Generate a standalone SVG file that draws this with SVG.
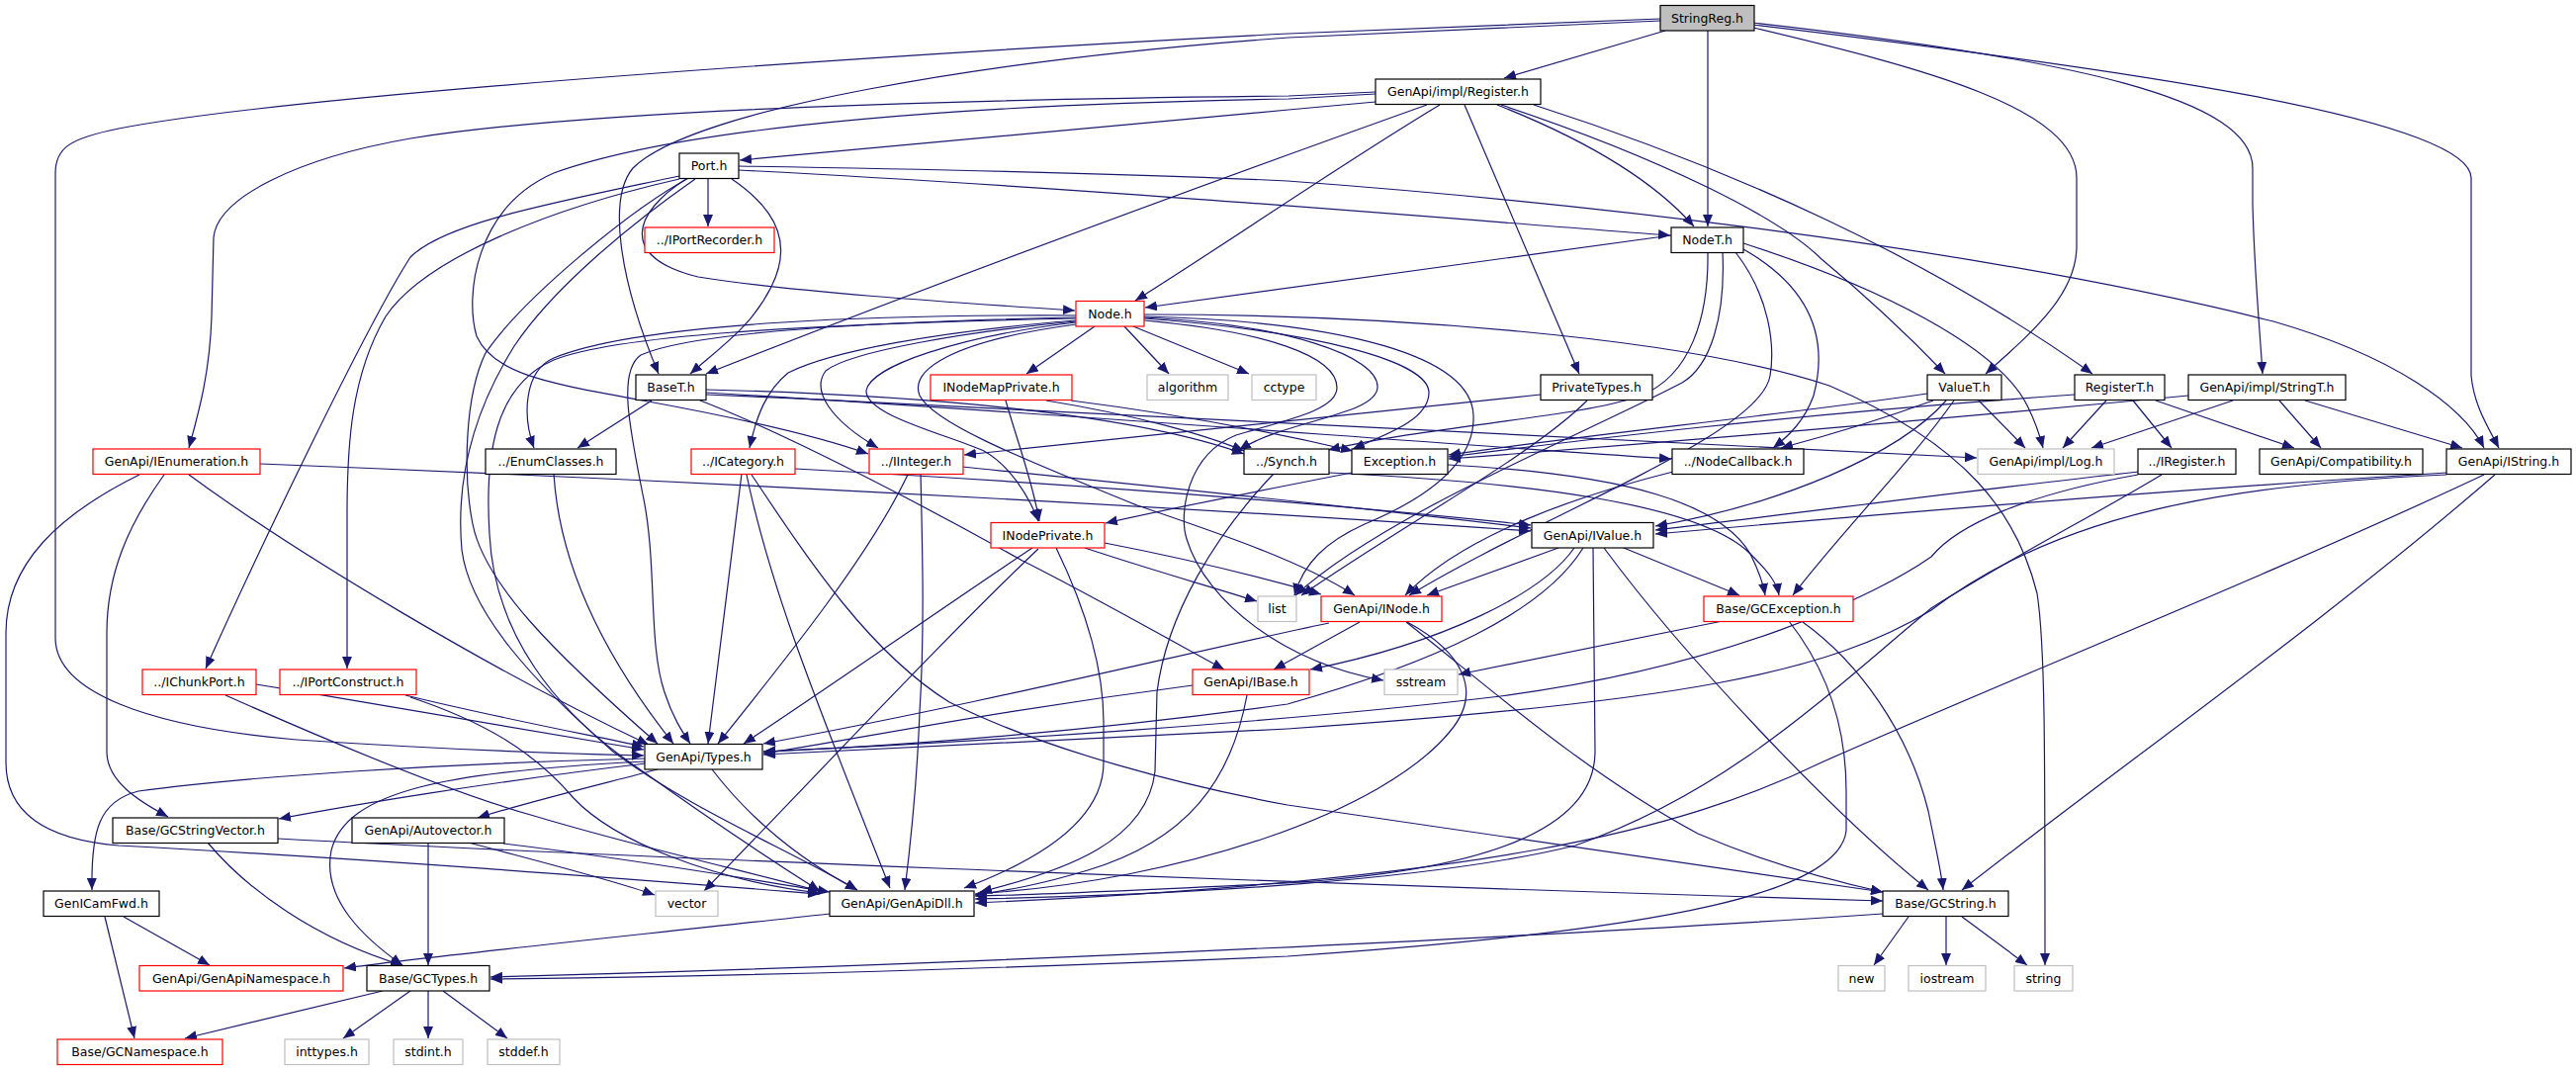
<svg xmlns="http://www.w3.org/2000/svg" width="2605" height="1083" viewBox="0 0 2605 1083">
<defs>
<style>
.e{fill:none;stroke:#191970;stroke-width:1.2;marker-end:url(#ah)}
.n{fill:#fff;stroke:#000;stroke-width:1.2}
.r{fill:#fff;stroke:#ff0000;stroke-width:1.2}
.g{fill:#fff;stroke:#bfbfbf;stroke-width:1.2}
.root{fill:#bfbfbf;stroke:#000;stroke-width:1.2}
text{font-family:"DejaVu Sans","Liberation Sans",sans-serif;font-size:12.5px;fill:#000;text-anchor:middle}
</style>
<marker id="ah" markerUnits="userSpaceOnUse" markerWidth="12" markerHeight="10" refX="12" refY="5" orient="auto">
<path d="M0,0 L12,5 L0,10 z" fill="#191970"/>
</marker>
</defs>
<rect width="2605" height="1083" fill="#fff"/>
<g id="edges">
<path class="e" d="M1684,31 L1521,79"/>
<path class="e" d="M1727,31 L1727,229"/>
<path class="e" d="M1773,28 C1950,70 2100,110 2100,180 L2100,249 C2100,300 2050,340 2008,378"/>
<path class="e" d="M1773,23 C2100,60 2278,100 2278,170 L2278,207 C2280,280 2285,330 2288,378"/>
<path class="e" d="M1773,25 C2150,70 2499,120 2499,180 L2499,380 C2502,410 2515,430 2527,453"/>
<path class="e" d="M1679,21 L1303,38 C1000,60 700,110 640,170 C615,200 625,280 666,378"/>
<path class="e" d="M1679,19 L1303,34 C900,55 300,95 120,130 C70,140 56,150 56,175 L56,645 C56,700 150,735 300,748 C450,758 560,762 651,764"/>
<path class="e" d="M1391,93 L1303,97 C1000,100 600,110 415,140 C300,160 220,200 216,240 L214,320 C212,380 200,420 191,453"/>
<path class="e" d="M1391,95 L1303,100 C1000,105 700,125 560,175 C480,210 470,300 482,340 C500,380 560,388 650,405 C760,425 830,442 878,459"/>
<path class="e" d="M1391,103 L1303,111 C1100,130 900,148 748,162"/>
<path class="e" d="M1443,106 C1250,175 950,285 714,378"/>
<path class="e" d="M1456,106 C1350,170 1250,240 1148,304"/>
<path class="e" d="M1481,106 L1597,378"/>
<path class="e" d="M1514,106 C1600,140 1670,180 1713,229"/>
<path class="e" d="M1518,106 C1680,160 1800,220 1842,262 C1900,310 1940,350 1967,378"/>
<path class="e" d="M1551,106 C1750,170 1950,260 2116,378"/>
<path class="e" d="M716,181 L716,229"/>
<path class="e" d="M747,168 C1000,172 1200,178 1302,183 C1600,205 2000,250 2299,325 C2420,360 2490,410 2512,453"/>
<path class="e" d="M747,172 C1100,190 1450,220 1689,238"/>
<path class="e" d="M694,181 C640,215 625,260 706,280 C800,295 950,305 1087,314"/>
<path class="e" d="M740,181 C790,215 800,250 780,290 C760,330 730,350 698,378"/>
<path class="e" d="M687,178 C560,205 450,225 415,260 C370,330 260,560 208,676"/>
<path class="e" d="M687,181 C560,210 430,260 390,320 C355,380 351,450 351,520 L351,676"/>
<path class="e" d="M700,178 C640,210 530,300 491,357 C470,400 468,480 478,530 C490,590 560,660 665,752"/>
<path class="e" d="M703,181 C640,225 560,290 520,350 C470,430 462,500 467,556 C475,620 540,690 620,760 C700,820 800,860 867,900"/>
<path class="e" d="M1107,330 L1038,378"/>
<path class="e" d="M1137,330 L1182,378"/>
<path class="e" d="M1146,330 L1263,378"/>
<path class="e" d="M1088,319 C900,318 650,325 560,362 C530,375 528,420 540,453"/>
<path class="e" d="M1088,321 C900,325 700,335 648,359 C625,375 636,430 650,500 C665,570 655,650 672,700 C680,725 690,740 698,752"/>
<path class="e" d="M1088,324 C950,335 840,355 797,377 C775,395 765,420 758,453"/>
<path class="e" d="M1088,325 C980,335 860,355 835,375 C820,395 840,425 888,453"/>
<path class="e" d="M1088,326 C970,340 880,370 876,395 C875,420 960,440 995,456 C1020,470 1040,500 1050,527"/>
<path class="e" d="M1088,328 C960,345 920,375 930,400 C945,430 1050,470 1150,511 C1250,545 1320,570 1370,602"/>
<path class="e" d="M1088,322 C800,328 620,340 560,364 C500,390 490,460 495,540 C500,640 560,720 650,780 C720,830 780,870 829,901"/>
<path class="e" d="M1157,321 C1300,328 1395,360 1393,392 C1391,420 1300,425 1253,455"/>
<path class="e" d="M1157,322 C1330,335 1445,365 1445,397 C1445,425 1400,440 1368,454"/>
<path class="e" d="M1157,324 C1280,335 1352,360 1352,392 C1352,415 1300,425 1250,440 C1200,460 1192,520 1200,545 C1220,610 1300,670 1399,688"/>
<path class="e" d="M1157,320 C1360,325 1488,360 1490,420 C1492,470 1440,505 1380,530 C1340,548 1318,570 1309,602"/>
<path class="e" d="M1157,318 C1400,318 1700,340 1850,390 C1990,450 2040,520 2060,600 C2068,650 2068,750 2068,976"/>
<path class="e" d="M659,405 L584,453"/>
<path class="e" d="M714,394 C950,400 1150,420 1258,459"/>
<path class="e" d="M714,397 C1100,420 1400,445 1690,464"/>
<path class="e" d="M714,399 C1200,420 1700,445 1999,463"/>
<path class="e" d="M708,405 C800,440 950,520 1034,567 C1100,600 1170,640 1238,677"/>
<path class="e" d="M1017,405 C1030,450 1045,490 1051,527"/>
<path class="e" d="M1058,405 C1150,420 1220,440 1258,456"/>
<path class="e" d="M1083,405 C1200,420 1300,440 1368,456"/>
<path class="e" d="M1044,554 C960,610 860,680 752,752"/>
<path class="e" d="M1050,555 C960,640 820,790 712,901"/>
<path class="e" d="M1068,554 C1100,620 1116,680 1116,730 L1116,771 C1116,830 1050,870 975,898"/>
<path class="e" d="M1097,554 C1160,575 1220,592 1271,608"/>
<path class="e" d="M1117,549 C1200,565 1280,585 1336,601"/>
<path class="e" d="M918,480 C880,560 800,660 726,752"/>
<path class="e" d="M931,479 C933,560 935,640 930,720 C927,800 920,860 915,900"/>
<path class="e" d="M973,472 C1150,490 1350,510 1548,534"/>
<path class="e" d="M750,479 C740,560 725,680 716,752"/>
<path class="e" d="M755,480 C780,600 830,720 900,898"/>
<path class="e" d="M760,480 C820,570 880,660 960,710 C1060,760 1200,795 1302,814 L1904,902"/>
<path class="e" d="M804,474 C1100,490 1350,510 1548,531"/>
<path class="e" d="M560,479 C565,560 600,650 681,752"/>
<path class="e" d="M191,480 C300,560 500,680 656,753"/>
<path class="e" d="M166,480 C130,530 108,580 108,640 L108,760 C108,790 140,810 170,826"/>
<path class="e" d="M141,480 C60,520 6,570 6,640 L6,771 C6,830 60,850 120,855 C400,870 650,890 829,904"/>
<path class="e" d="M263,469 C800,490 1300,520 1548,537"/>
<path class="e" d="M1288,479 C1230,540 1180,620 1170,700 L1168,780 C1160,850 1080,880 991,902"/>
<path class="e" d="M1344,478 C1550,488 1720,510 1770,560 C1790,580 1797,590 1799,602"/>
<path class="e" d="M1464,470 C1650,480 1740,510 1770,560 C1780,580 1783,590 1785,602"/>
<path class="e" d="M1367,478 C1280,495 1180,515 1118,529"/>
<path class="e" d="M1692,477 C1600,500 1480,540 1421,602"/>
<path class="e" d="M1558,399 C1350,420 1150,440 975,460"/>
<path class="e" d="M1605,405 C1550,460 1420,530 1316,602"/>
<path class="e" d="M1690,238 L1158,311"/>
<path class="e" d="M1727,255 C1728,320 1710,380 1659,400 C1600,422 1450,430 1343,455"/>
<path class="e" d="M1742,255 C1745,320 1730,370 1701,387 C1600,440 1400,520 1310,602"/>
<path class="e" d="M1755,255 C1790,300 1795,350 1790,380 C1780,440 1560,520 1425,602"/>
<path class="e" d="M1763,252 C1830,290 1850,340 1834,400 C1825,425 1810,440 1793,453"/>
<path class="e" d="M1763,246 C1900,290 2020,350 2050,410 C2060,430 2064,445 2066,453"/>
<path class="e" d="M2001,405 L2048,453"/>
<path class="e" d="M1955,405 C1900,425 1850,440 1801,453"/>
<path class="e" d="M1968,405 C1920,460 1800,510 1674,532"/>
<path class="e" d="M1976,405 C1930,470 1860,540 1813,602"/>
<path class="e" d="M1949,398 C1800,420 1600,440 1465,460"/>
<path class="e" d="M2130,405 L2086,453"/>
<path class="e" d="M2157,405 L2196,453"/>
<path class="e" d="M2180,405 L2320,453"/>
<path class="e" d="M2098,399 C1800,420 1600,445 1465,462"/>
<path class="e" d="M2258,405 L2115,453"/>
<path class="e" d="M2305,405 L2347,453"/>
<path class="e" d="M2331,405 L2490,453"/>
<path class="e" d="M2213,400 C1900,430 1650,450 1465,464"/>
<path class="e" d="M2163,477 C2000,495 1850,515 1674,536"/>
<path class="e" d="M2162,480 C2050,500 1980,530 1953,563 C1900,600 1750,675 1509,705 C1300,730 1000,750 772,760"/>
<path class="e" d="M2186,480 C2120,520 2040,560 1953,615 C1850,700 1750,800 1593,855 C1450,890 1200,905 986,909"/>
<path class="e" d="M2474,478 C2200,495 1900,520 1674,540"/>
<path class="e" d="M2474,480 C2250,490 2080,520 1953,617 C1850,680 1700,710 1302,737 L772,763"/>
<path class="e" d="M2512,480 C2300,580 2000,700 1842,771 C1700,840 1500,890 986,913"/>
<path class="e" d="M2523,480 C2350,630 2150,770 1984,900"/>
<path class="e" d="M1576,554 L1443,602"/>
<path class="e" d="M1592,554 C1560,600 1460,650 1325,677"/>
<path class="e" d="M1601,554 C1560,620 1450,670 1302,712 C1100,740 900,755 772,760"/>
<path class="e" d="M1611,554 L1613,760 C1613,840 1500,880 1302,893 C1150,900 1050,905 986,906"/>
<path class="e" d="M1642,554 L1759,602"/>
<path class="e" d="M1622,554 C1700,660 1850,820 1950,900"/>
<path class="e" d="M1375,629 L1288,677"/>
<path class="e" d="M1344,630 C1200,660 1000,710 772,752"/>
<path class="e" d="M1423,629 C1480,660 1500,700 1466,740 C1400,820 1200,890 986,904"/>
<path class="e" d="M1422,629 C1500,690 1600,780 1717,843 C1780,870 1850,890 1904,902"/>
<path class="e" d="M1742,628 L1475,682"/>
<path class="e" d="M1823,629 C1880,670 1930,740 1950,820 C1958,860 1963,880 1965,900"/>
<path class="e" d="M1809,628 C1850,680 1867,740 1867,800 L1867,840 C1860,900 1700,940 1302,967 C1000,980 700,988 496,990"/>
<path class="e" d="M1206,693 C1000,720 880,745 772,762"/>
<path class="e" d="M1261,703 C1245,790 1200,850 1100,880 C1050,895 1020,900 986,905"/>
<path class="e" d="M653,767 C450,772 250,785 140,800 C100,810 92,840 93,900"/>
<path class="e" d="M653,772 C500,790 350,815 282,828"/>
<path class="e" d="M665,778 C600,795 530,812 483,827"/>
<path class="e" d="M653,770 C450,780 350,800 335,860 C325,910 370,950 407,976"/>
<path class="e" d="M720,778 C760,830 810,870 867,900"/>
<path class="e" d="M210,852 C250,900 320,950 407,976"/>
<path class="e" d="M281,848 C600,865 1200,890 1904,911"/>
<path class="e" d="M433,852 L433,976"/>
<path class="e" d="M474,852 C560,875 620,890 662,905"/>
<path class="e" d="M509,853 C650,870 750,888 839,902"/>
<path class="e" d="M125,927 L212,976"/>
<path class="e" d="M106,927 L136,1050"/>
<path class="e" d="M839,924 C650,945 450,965 348,979"/>
<path class="e" d="M387,1002 L187,1050"/>
<path class="e" d="M415,1002 L347,1050"/>
<path class="e" d="M433,1002 L433,1050"/>
<path class="e" d="M448,1002 L513,1050"/>
<path class="e" d="M1904,924 C1600,945 1000,975 496,988"/>
<path class="e" d="M1930,927 L1895,976"/>
<path class="e" d="M1968,927 L1968,976"/>
<path class="e" d="M1984,927 L2050,976"/>
<path class="e" d="M259,692 C400,715 550,740 651,758"/>
<path class="e" d="M228,703 C300,735 450,800 540,825 C640,855 750,880 829,901"/>
<path class="e" d="M410,703 C500,725 580,740 651,755"/>
<path class="e" d="M415,705 C490,730 540,760 580,807 C620,850 720,890 829,903"/>
</g>
<g id="n-stringreg"><rect class="root" x="1679" y="5.5" width="95" height="25.5"/><text x="1726.5" y="22.5">StringReg.h</text></g>
<g id="n-register"><rect class="n" x="1391" y="80" width="167" height="25.5"/><text x="1474.5" y="97">GenApi/impl/Register.h</text></g>
<g id="n-port"><rect class="n" x="687" y="155" width="60" height="25.5"/><text x="717" y="172">Port.h</text></g>
<g id="n-iportrecorder"><rect class="r" x="652" y="230" width="131" height="25.5"/><text x="717.5" y="247">../IPortRecorder.h</text></g>
<g id="n-nodet"><rect class="n" x="1690" y="230" width="73" height="25.5"/><text x="1726.5" y="247">NodeT.h</text></g>
<g id="n-node"><rect class="r" x="1088" y="304.5" width="69" height="25.5"/><text x="1122.5" y="321.5">Node.h</text></g>
<g id="n-baset"><rect class="n" x="643" y="379" width="71" height="25.5"/><text x="678.5" y="396">BaseT.h</text></g>
<g id="n-inodemapprivate"><rect class="r" x="941" y="379" width="143" height="25.5"/><text x="1012.5" y="396">INodeMapPrivate.h</text></g>
<g id="n-algorithm"><rect class="g" x="1160" y="379" width="82" height="25.5"/><text x="1201" y="396">algorithm</text></g>
<g id="n-cctype"><rect class="g" x="1266" y="379" width="65" height="25.5"/><text x="1298.5" y="396">cctype</text></g>
<g id="n-privatetypes"><rect class="n" x="1558" y="379" width="113" height="25.5"/><text x="1614.5" y="396">PrivateTypes.h</text></g>
<g id="n-valuet"><rect class="n" x="1949" y="379" width="75" height="25.5"/><text x="1986.5" y="396">ValueT.h</text></g>
<g id="n-registert"><rect class="n" x="2098" y="379" width="91" height="25.5"/><text x="2143.5" y="396">RegisterT.h</text></g>
<g id="n-stringt"><rect class="n" x="2213" y="379" width="159" height="25.5"/><text x="2292.5" y="396">GenApi/impl/StringT.h</text></g>
<g id="n-ienumeration"><rect class="r" x="94" y="454" width="169" height="25.5"/><text x="178.5" y="471">GenApi/IEnumeration.h</text></g>
<g id="n-enumclasses"><rect class="n" x="491" y="454" width="132" height="25.5"/><text x="557" y="471">../EnumClasses.h</text></g>
<g id="n-icategory"><rect class="r" x="699" y="454" width="105" height="25.5"/><text x="751.5" y="471">../ICategory.h</text></g>
<g id="n-iinteger"><rect class="r" x="879" y="454" width="95" height="25.5"/><text x="926.5" y="471">../IInteger.h</text></g>
<g id="n-synch"><rect class="n" x="1258" y="454" width="86" height="25.5"/><text x="1301" y="471">../Synch.h</text></g>
<g id="n-exception"><rect class="n" x="1367" y="454" width="97" height="25.5"/><text x="1415.5" y="471">Exception.h</text></g>
<g id="n-nodecallback"><rect class="n" x="1691" y="454" width="133" height="25.5"/><text x="1757.5" y="471">../NodeCallback.h</text></g>
<g id="n-log"><rect class="g" x="2000" y="454" width="138" height="25.5"/><text x="2069" y="471">GenApi/impl/Log.h</text></g>
<g id="n-iregister"><rect class="n" x="2162" y="454" width="99" height="25.5"/><text x="2211.5" y="471">../IRegister.h</text></g>
<g id="n-compatibility"><rect class="n" x="2285" y="454" width="165" height="25.5"/><text x="2367.5" y="471">GenApi/Compatibility.h</text></g>
<g id="n-istring"><rect class="n" x="2474" y="454" width="126" height="25.5"/><text x="2537" y="471">GenApi/IString.h</text></g>
<g id="n-inodeprivate"><rect class="r" x="1002" y="528.5" width="115" height="25.5"/><text x="1059.5" y="545.5">INodePrivate.h</text></g>
<g id="n-ivalue"><rect class="n" x="1549" y="528.5" width="123" height="25.5"/><text x="1610.5" y="545.5">GenApi/IValue.h</text></g>
<g id="n-list"><rect class="g" x="1272" y="603" width="39" height="25.5"/><text x="1291.5" y="620">list</text></g>
<g id="n-inode"><rect class="r" x="1336" y="603" width="122" height="25.5"/><text x="1397" y="620">GenApi/INode.h</text></g>
<g id="n-gcexception"><rect class="r" x="1723" y="603" width="151" height="25.5"/><text x="1798.5" y="620">Base/GCException.h</text></g>
<g id="n-ichunkport"><rect class="r" x="144" y="677" width="115" height="25.5"/><text x="201.5" y="694">../IChunkPort.h</text></g>
<g id="n-iportconstruct"><rect class="r" x="283" y="677" width="138" height="25.5"/><text x="352" y="694">../IPortConstruct.h</text></g>
<g id="n-ibase"><rect class="r" x="1206" y="677" width="118" height="25.5"/><text x="1265" y="694">GenApi/IBase.h</text></g>
<g id="n-sstream"><rect class="g" x="1400" y="677" width="74" height="25.5"/><text x="1437" y="694">sstream</text></g>
<g id="n-types"><rect class="n" x="652" y="752.5" width="119" height="25.5"/><text x="711.5" y="769.5">GenApi/Types.h</text></g>
<g id="n-gcstringvector"><rect class="n" x="114" y="827" width="167" height="25.5"/><text x="197.5" y="844">Base/GCStringVector.h</text></g>
<g id="n-autovector"><rect class="n" x="356" y="827" width="154" height="25.5"/><text x="433" y="844">GenApi/Autovector.h</text></g>
<g id="n-genicamfwd"><rect class="n" x="44" y="901" width="117" height="25.5"/><text x="102.5" y="918">GenICamFwd.h</text></g>
<g id="n-vector"><rect class="g" x="663" y="901" width="63" height="25.5"/><text x="694.5" y="918">vector</text></g>
<g id="n-genapidll"><rect class="n" x="839" y="901" width="146" height="25.5"/><text x="912" y="918">GenApi/GenApiDll.h</text></g>
<g id="n-gcstring"><rect class="n" x="1904" y="901" width="127" height="25.5"/><text x="1967.5" y="918">Base/GCString.h</text></g>
<g id="n-genapinamespace"><rect class="r" x="141" y="976.5" width="206" height="25.5"/><text x="244" y="993.5">GenApi/GenApiNamespace.h</text></g>
<g id="n-gctypes"><rect class="n" x="371" y="976.5" width="124" height="25.5"/><text x="433" y="993.5">Base/GCTypes.h</text></g>
<g id="n-new"><rect class="g" x="1859" y="976.5" width="47" height="25.5"/><text x="1882.5" y="993.5">new</text></g>
<g id="n-iostream"><rect class="g" x="1930" y="976.5" width="78" height="25.5"/><text x="1969" y="993.5">iostream</text></g>
<g id="n-string"><rect class="g" x="2037" y="976.5" width="59" height="25.5"/><text x="2066.5" y="993.5">string</text></g>
<g id="n-gcnamespace"><rect class="r" x="58" y="1051" width="167" height="25.5"/><text x="141.5" y="1068">Base/GCNamespace.h</text></g>
<g id="n-inttypes"><rect class="g" x="288" y="1051" width="85" height="25.5"/><text x="330.5" y="1068">inttypes.h</text></g>
<g id="n-stdint"><rect class="g" x="398" y="1051" width="70" height="25.5"/><text x="433" y="1068">stdint.h</text></g>
<g id="n-stddef"><rect class="g" x="493" y="1051" width="73" height="25.5"/><text x="529.5" y="1068">stddef.h</text></g>
</svg>
